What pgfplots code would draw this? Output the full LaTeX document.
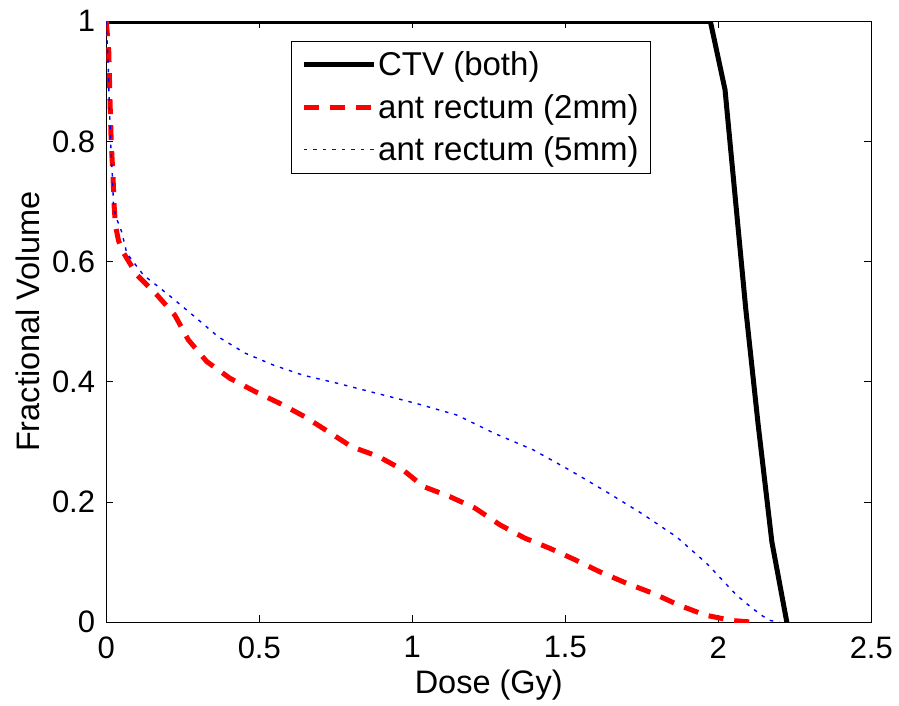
\documentclass[border=0pt]{standalone}
\usepackage{pgfplots}
\pgfplotsset{compat=1.18}
\usepackage{fontspec}
\setmainfont{Liberation Sans}
\begin{document}
\begin{tikzpicture}
\path[use as bounding box] (-106.3pt,-82.7pt) rectangle (792.7pt,622.3pt);
\begin{axis}[
  at={(0pt,0pt)}, anchor=south west,
  scale only axis, width=765pt, height=601pt,
  xmin=0, xmax=2.5, ymin=0, ymax=1,
  xtick={0,0.5,1,1.5,2,2.5}, ytick={0,0.2,0.4,0.6,0.8,1},
  tick align=inside, major tick length=7pt,
  axis line style={line width=1.2pt},
  every tick/.style={black, line width=1pt},
  /pgf/number format/assume math mode=true,
  tick label style={font=\fontsize{31}{36}\selectfont},
  xticklabel style={inner sep=0pt, anchor=north, yshift=-14pt},
  yticklabel style={inner sep=0pt, anchor=east, xshift=-11pt},
  xlabel={Dose (Gy)}, ylabel={Fractional Volume},
  label style={font=\fontsize{32.5}{38}\selectfont},
  xlabel style={at={(axis description cs:0.5,-0.105)}, anchor=center},
  ylabel style={at={(axis description cs:-0.102,0.5)}, anchor=center},
  legend style={at={(rel axis cs:0.241,0.968)}, anchor=north west,
    font=\fontsize{33}{38}\selectfont, draw=black, line width=1pt,
    inner xsep=10pt, inner ysep=9pt, row sep=13pt,
    cells={anchor=west}},
  legend image code/.code={\draw[#1] (0pt,0pt) -- (70pt,0pt);},
  legend cell align=left,
]
\addplot[black, line width=5pt] coordinates {
(0,1) (1.974,1) (2.022,0.886) (2.09,0.52) (2.13,0.33) (2.175,0.134) (2.224,0)
};
\addlegendentry{CTV (both)}
\addplot[red, line width=5pt, dash pattern=on 15pt off 11pt] coordinates {
(0,1) (0.008,0.95) (0.012,0.87) (0.016,0.8) (0.022,0.74) (0.026,0.69) (0.03,0.66) (0.04,0.635) (0.056,0.615) (0.1,0.578) (0.165,0.545) (0.224,0.511) (0.268,0.47) (0.328,0.434) (0.404,0.406) (0.486,0.384) (0.568,0.364) (0.649,0.342) (0.726,0.317) (0.802,0.292) (0.889,0.276) (0.971,0.253) (1.036,0.226) (1.123,0.209) (1.205,0.19) (1.287,0.162) (1.368,0.14) (1.45,0.123) (1.532,0.104) (1.613,0.084) (1.70,0.065) (1.788,0.048) (1.869,0.029) (1.957,0.012) (2.044,0.003) (2.12,0)
};
\addlegendentry{ant rectum (2mm)}
\addplot[blue, line width=1.4pt, dash pattern=on 3.5pt off 6pt] coordinates {
(0,1) (0.006,0.93) (0.01,0.86) (0.014,0.8) (0.02,0.74) (0.024,0.69) (0.035,0.67) (0.05,0.65) (0.067,0.614) (0.121,0.578) (0.203,0.545) (0.29,0.508) (0.366,0.475) (0.453,0.448) (0.546,0.428) (0.644,0.411) (0.753,0.398) (0.884,0.381) (1.014,0.364) (1.145,0.345) (1.27,0.314) (1.395,0.287) (1.515,0.253) (1.635,0.217) (1.75,0.181) (1.864,0.142) (1.962,0.098) (2.06,0.045) (2.1,0.028) (2.14,0.012) (2.17,0.003) (2.2,0)
};
\addlegendentry{ant rectum (5mm)}
\end{axis}
\end{tikzpicture}
\end{document}
